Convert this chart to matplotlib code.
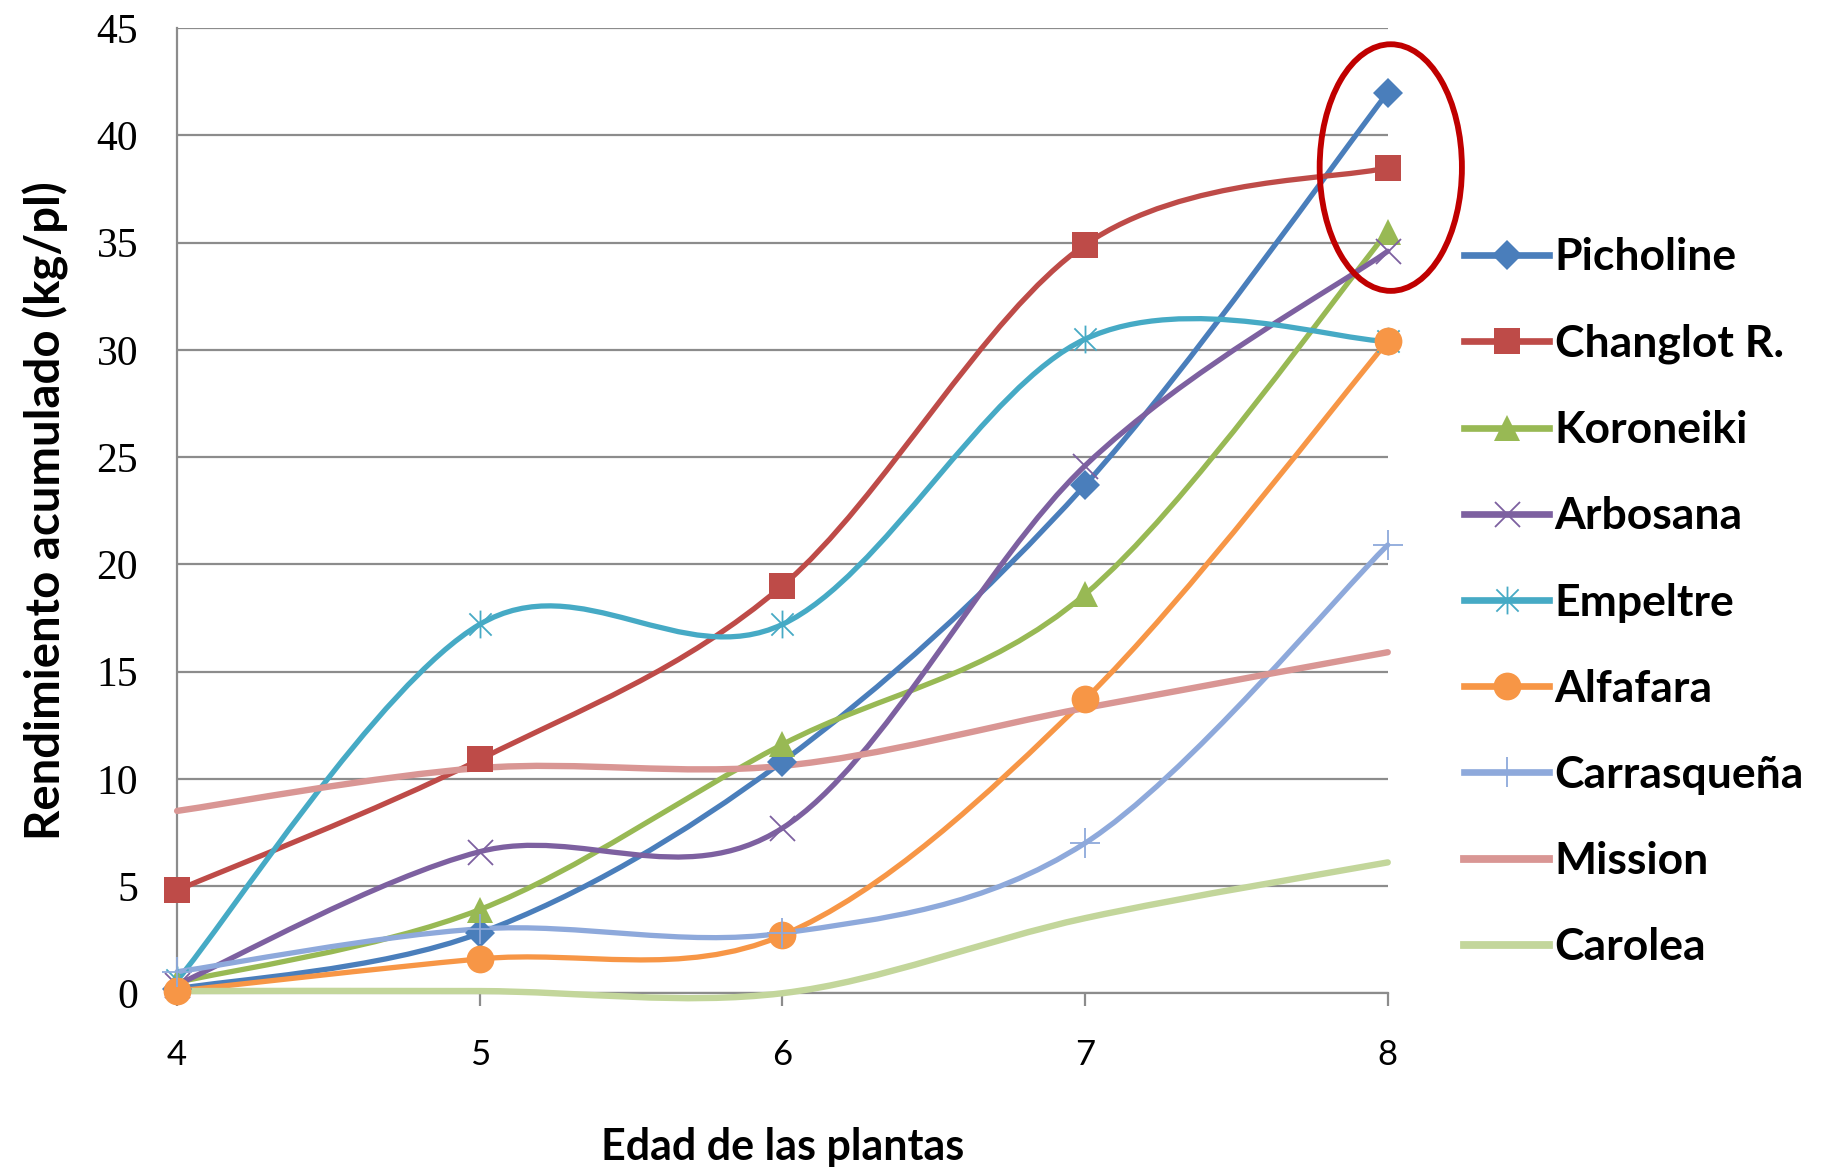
import numpy as np
import matplotlib
matplotlib.use("Agg")
import matplotlib.pyplot as plt
from matplotlib.path import Path
from matplotlib.patches import PathPatch, Ellipse
from matplotlib.lines import Line2D

# Datos
edad = [4, 5, 6, 7, 8]
picholine   = [0.2, 2.8, 10.8, 23.7, 42.0]
changlot    = [4.8, 10.9, 19.0, 34.9, 38.5]
koroneiki   = [0.5, 3.9, 11.6, 18.6, 35.5]
arbosana    = [0.4, 6.6, 7.7, 24.6, 34.6]
empeltre    = [0.6, 17.2, 17.2, 30.5, 30.4]
alfafara    = [0.1, 1.6, 2.7, 13.7, 30.4]
carrasquena = [1.0, 3.0, 2.8, 7.0, 20.9]
mission     = [8.5, 10.5, 10.6, 13.3, 15.9]
carolea     = [0.1, 0.1, 0.0, 3.5, 6.1]

# asterisco estilo Excel: X + línea vertical
STAR = Path([(-1, -1), (1, 1), (-1, 1), (1, -1), (0, -1.25), (0, 1.25)],
            [Path.MOVETO, Path.LINETO] * 3)

series = [
    ("Picholine",   picholine,   "#4A7EBB", "D", 3.8, 15),
    ("Changlot R.", changlot,    "#BE4B48", "s", 3.8, 19),
    ("Koroneiki",   koroneiki,   "#98B954", "^", 3.8, 19),
    ("Arbosana",    arbosana,    "#7D60A0", "x", 3.8, 18),
    ("Empeltre",    empeltre,    "#46AAC5", STAR, 3.8, 20),
    ("Alfafara",    alfafara,    "#F79646", "o", 3.8, 20),
    ("Carrasqueña", carrasquena, "#8EA9DB", "+", 3.8, 22),
    ("Mission",     mission,     "#D99694", None, 4.6, 0),
    ("Carolea",     carolea,     "#C3D69B", None, 4.6, 0),
]

GRID = "#8C8C8C"


def smooth_path(x, y):
    """Curva suavizada tipo Excel (Bezier con tangentes Catmull-Rom)"""
    pts = np.column_stack([x, y]).astype(float)
    n = len(pts)
    verts = [pts[0]]
    codes = [Path.MOVETO]
    for i in range(n - 1):
        p0 = pts[i - 1] if i > 0 else pts[i]
        p1 = pts[i]
        p2 = pts[i + 1]
        p3 = pts[i + 2] if i + 2 < n else pts[i + 1]
        c1 = p1 + (p2 - p0) / 6.0
        c2 = p2 - (p3 - p1) / 6.0
        verts += [c1, c2, p2]
        codes += [Path.CURVE4] * 3
    return Path(verts, codes)


fig = plt.figure(figsize=(18.26, 11.74), dpi=100)
ax = fig.add_axes([0.097, 0.154, 0.663, 0.822])

ax.set_xlim(4, 8)
ax.set_ylim(0, 45)
ax.set_yticks(range(0, 46, 5))
ax.set_xticks(edad)
ax.grid(True, axis="y", color=GRID, linewidth=1.6)
ax.set_axisbelow(True)
for s in ["top", "right"]:
    ax.spines[s].set_visible(False)
for s in ["left", "bottom"]:
    ax.spines[s].set_color(GRID)
    ax.spines[s].set_linewidth(1.6)

handles = []
for name, vals, col, mk, lw, ms in series:
    patch = PathPatch(smooth_path(edad, vals), facecolor="none", edgecolor=col,
                      linewidth=lw, capstyle="round", clip_on=False, zorder=3)
    ax.add_patch(patch)
    if mk is not None:
        thin = not isinstance(mk, str) or mk in ("x", "+")
        mew = 1.3 if thin else 0
        ax.plot(edad, vals, linestyle="none", marker=mk, markersize=ms,
                color=col, markeredgewidth=mew, clip_on=False, zorder=4)
        handles.append(Line2D([], [], color=col, lw=lw + 1, marker=mk,
                              markersize=ms, markeredgewidth=mew))
    else:
        handles.append(Line2D([], [], color=col, lw=lw + 1))

ax.tick_params(axis="y", length=0, pad=28, labelsize=30)
ax.tick_params(axis="x", length=9, width=1.6, color=GRID, pad=24, labelsize=25)
for lab in ax.get_yticklabels():
    lab.set_fontfamily("Liberation Serif")
for lab in ax.get_xticklabels():
    lab.set_fontfamily("Lato")

ax.set_xlabel("Edad de las plantas", fontsize=31, fontfamily="Lato",
              fontweight="bold", labelpad=40)
ax.set_ylabel("Rendimiento acumulado (kg/pl)", fontsize=34, fontfamily="Lato",
              fontweight="bold", labelpad=20)

# Elipse roja que resalta el último año
ell = Ellipse((8.01, 38.5), 0.47, 11.5, fill=False, edgecolor="#C00000",
              linewidth=4.2, clip_on=False, zorder=5)
ax.add_patch(ell)

fig.legend(handles, [s[0] for s in series], loc="center left",
           bbox_to_anchor=(0.802, 0.487), frameon=False,
           prop={"family": "Lato", "weight": "bold", "size": 32},
           handlelength=1.9, handletextpad=0.13, labelspacing=1.04,
           borderpad=0, borderaxespad=0)

fig.savefig("out.png", dpi=100, facecolor="white")
